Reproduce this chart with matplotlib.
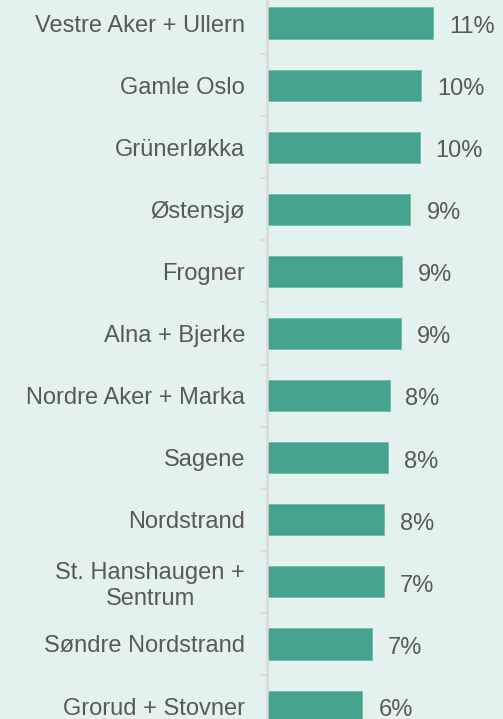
import matplotlib.pyplot as plt
from matplotlib.ticker import FixedLocator
import numpy as np

# bydeler, sorted from largest share down
districts = ['Vestre Aker + Ullern', 'Gamle Oslo', 'Grünerløkka', 'Østensjø',
             'Frogner', 'Alna + Bjerke', 'Nordre Aker + Marka', 'Sagene',
             'Nordstrand', 'St. Hanshaugen +\nSentrum', 'Søndre Nordstrand',
             'Grorud + Stovner']
shares = [0.1067, 0.0990, 0.0978, 0.0920, 0.0865, 0.0858, 0.0786, 0.0778,
          0.0752, 0.0749, 0.0671, 0.0613]

bg = '#e3f2ee'
bar_col = '#44a28d'
txt_col = '#595959'
grey = '#dadada'

plt.rcParams['font.family'] = ['Liberation Sans', 'DejaVu Sans']

fig = plt.figure(figsize=(5.03, 7.19), dpi=100, facecolor=bg)
ax = fig.add_axes([266.5 / 503, 0, 1 - 266.5 / 503, 1], facecolor=bg)

y = np.arange(len(districts))
ax.barh(y, shares, height=0.5, color=bar_col, edgecolor='#6cbfa9', linewidth=0.6)

for yi, v in zip(y, shares):
    ax.annotate(f'{v:.0%}', (v, yi), xytext=(11.5, -1), textcoords='offset points',
                va='center_baseline', ha='left', fontsize=17, color=txt_col)

ax.set_xlim(0, 236.5 / 15.65 / 100)
ax.set_ylim((719 - 23) / 62.1, -23 / 62.1)

ax.set_yticks(y)
ax.set_yticklabels(districts, fontsize=17, color=txt_col, ha='right')
ax.tick_params(axis='y', which='major', length=0, pad=15.5)
ax.yaxis.set_minor_locator(FixedLocator(y[:-1] + 0.5))
ax.tick_params(axis='y', which='minor', length=5, width=1.2, color=grey)
for lbl in ax.get_yticklabels():
    lbl.set_multialignment('center')

ax.set_xticks([])
for s in ['top', 'right', 'bottom']:
    ax.spines[s].set_visible(False)
ax.spines['left'].set_color(grey)
ax.spines['left'].set_linewidth(1.8)

fig.savefig('out.png', dpi=100, facecolor=bg)
